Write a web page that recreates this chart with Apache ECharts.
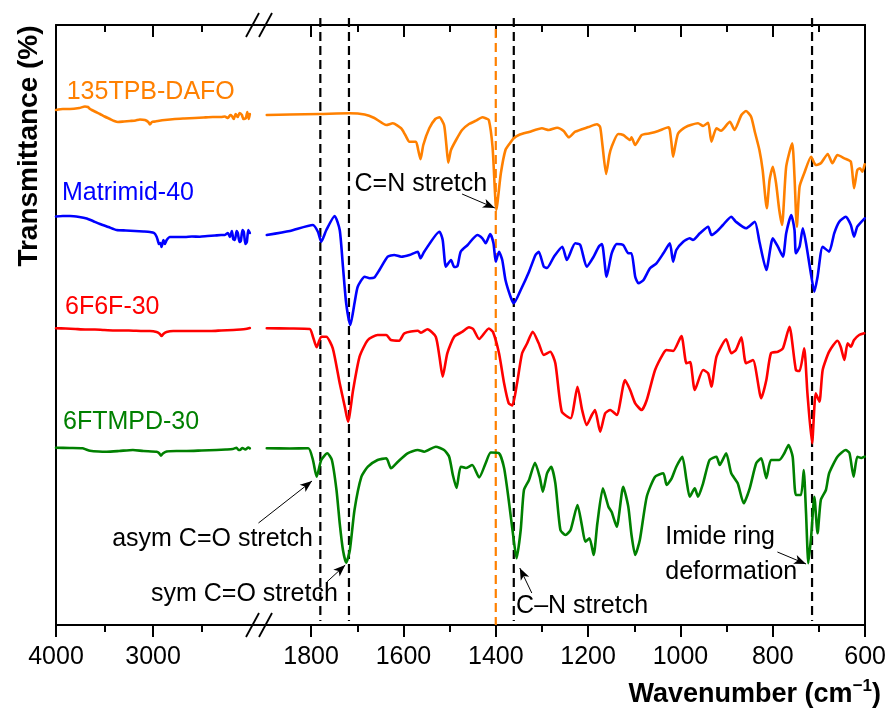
<!DOCTYPE html>
<html>
<head>
<meta charset="utf-8">
<title>FTIR spectra</title>
<script src="https://cdn.jsdelivr.net/npm/echarts@6/dist/echarts.min.js"></script>
<style>
  html, body { margin: 0; padding: 0; background: #ffffff; }
  #chart { width: 889px; height: 709px; }
</style>
</head>
<body>
<div id="chart"></div>
<script>
// ---------- axis windows and ticks (wavenumber, cm-1) ----------
const highRange = [1920, 4000];          // O-H / C-H stretching window
const lowRange = [600, 1915];            // fingerprint window
const highMajorTicks = [4000, 3000];
const highMinorTicks = [3500, 2500];
const lowMajorTicks = [1800, 1600, 1400, 1200, 1000, 800, 600];
const lowMinorTicks = [1700, 1500, 1300, 1100, 900, 700];
const transRange = [0, 600];             // offset transmittance (stacked, arb. units)

// ---------- sample names ----------
const sampleNames = ['135TPB-DAFO', 'Matrimid-40', '6F6F-30', '6FTMPD-30'];

// ---------- spectra: [wavenumber, offset transmittance] ----------
const tpbHigh = [[4000,515],[3930,516],[3856,516],[3760,517],[3702,518.5],[3671,518],[3650,516],[3630,515],[3590,513],[3547,511],[3500,508.5],[3444,506],[3400,504],[3362,503],[3300,503.5],[3239,504],[3180,504.5],[3136,505.5],[3084,505],[3050,503],[3033,500.5],[3012,503],[2980,503.5],[2951,504],[2880,505],[2776,506],[2680,506.5],[2570,507],[2480,507.5],[2385,508],[2300,508],[2261,508.5],[2230,507],[2205,510],[2189,509],[2170,506],[2150,511],[2128,508],[2110,512],[2086,510],[2070,506],[2045,507],[2030,513],[2015,506],[2004,511]];
const tpbLow = [[1896,510],[1846,510.5],[1781,511],[1717,511.7],[1684,510.5],[1663,507],[1637,500],[1623,501.7],[1605,496.7],[1596,490],[1587,483.3],[1573,483.3],[1568,475],[1563,465.7],[1557,480],[1544,496.7],[1531,506],[1522,507.7],[1512,500],[1507,480],[1503,462.3],[1497,475],[1486,485],[1473,495],[1458,501],[1443,504.3],[1429,507.7],[1422,506.7],[1415,505],[1407,478],[1402,435],[1399,415],[1389,451.7],[1379,475],[1369,482],[1361,486.7],[1350,490],[1328,493],[1300,496.7],[1285,495],[1267,497.3],[1253,494],[1242,487.7],[1228,493.3],[1199,498],[1181,500.7],[1174,498],[1169,480],[1161,451],[1154,470],[1149,478.3],[1135,491],[1124,490],[1109,485],[1106,487.7],[1098,480],[1084,490],[1066,491.7],[1048,494],[1026,497.7],[1023,495],[1019,480],[1016,468.3],[1011,480],[1005,491.7],[990,497.7],[962,501.7],[951,499],[940,502.3],[933,483.3],[922,496.7],[912,494.3],[893,503.3],[883,495],[868,510],[858,514],[847,508.3],[839,493.3],[829,475],[822,455],[813,416.7],[807,445],[800,458.3],[793,442],[786,415],[780,400],[771,458.3],[758,481.7],[753,448.3],[748,398.3],[742,438.3],[732,451.7],[717,468.3],[707,460],[696,461.7],[681,471],[671,461.7],[660,470],[645,466.7],[631,463.3],[624,436.7],[617,455],[611,456.7],[606,453.3],[601,460.7]];

const matHigh = [[4000,408.5],[3930,409],[3856,409],[3760,408],[3684,406.5],[3620,404],[3547,401],[3460,398],[3376,395],[3280,394.5],[3187,394],[3100,393.5],[3033,393],[2990,392],[2964,388.3],[2950,384],[2940,381],[2925,382],[2913,378],[2900,383],[2894,385],[2885,383],[2879,381],[2860,385],[2827,388],[2750,388],[2673,388],[2600,388.5],[2519,388.3],[2440,389],[2364,389.5],[2300,390],[2261,390],[2230,392],[2210,388],[2189,394],[2175,386],[2158,385],[2140,394],[2128,392],[2110,383],[2097,384],[2080,395],[2066,393],[2050,381],[2035,383],[2020,395],[2004,392]];
const matLow = [[1896,390],[1846,394],[1796,400],[1785,393],[1778,383.3],[1767,395],[1749,409],[1738,395],[1731,358.3],[1724,321.7],[1715,300],[1706,321.7],[1699,338.3],[1684,348.3],[1673,346.7],[1663,347.5],[1652,355],[1634,368.3],[1620,370],[1605,368.3],[1587,370],[1569,373.3],[1563,366.7],[1555,373.3],[1522,393.3],[1515,385],[1508,358.3],[1497,365],[1490,358],[1483,359],[1476,373.3],[1461,380],[1440,390],[1429,386.7],[1422,381.7],[1412,391],[1405,381.7],[1400,363.3],[1393,373.3],[1386,365],[1379,345],[1368,328.3],[1361,321.7],[1346,335],[1328,353.3],[1314,370],[1307,373.3],[1296,358.3],[1289,357],[1274,368.3],[1256,378.3],[1246,365],[1228,381.7],[1217,380],[1203,358.3],[1188,368.3],[1177,378.3],[1170,381],[1160,348.3],[1149,371.7],[1138,381],[1124,380],[1113,371.7],[1106,371.7],[1098,348.3],[1091,341.7],[1080,345],[1066,356.7],[1052,361.7],[1037,371.7],[1023,381.7],[1016,363.3],[1009,375],[994,383.3],[980,386.7],[973,385],[958,391.7],[940,398.3],[933,390],[922,393.3],[908,400],[890,408.3],[880,403.3],[858,396.7],[839,403.3],[829,383.3],[814,355],[800,386.7],[789,378.3],[778,368.3],[771,391.7],[760,410],[753,395],[750,371.7],[742,378.3],[735,396.7],[728,381.7],[717,350],[710,333.3],[703,348.3],[692,378.3],[678,373.3],[667,391.7],[656,403.3],[642,408.3],[631,400],[624,388.3],[617,398.3],[601,406.7]];

const f6High = [[4000,296.7],[3900,296.5],[3800,296],[3700,295.5],[3600,295.5],[3517,295],[3400,294.5],[3250,294.5],[3100,294],[3033,294],[2964,293],[2930,291],[2913,289],[2895,291],[2862,293],[2793,294],[2700,294],[2600,294],[2500,294],[2400,294],[2300,294.5],[2175,295],[2100,295.5],[2050,296],[2004,297]];
const f6Low = [[1896,296.7],[1846,296.5],[1803,296],[1796,288.3],[1788,277.7],[1778,288.3],[1767,288.3],[1753,276.7],[1738,241.7],[1727,218.3],[1720,203.3],[1709,235],[1695,268.3],[1677,285],[1656,290],[1637,290],[1627,285],[1609,284.3],[1598,291.7],[1569,294.3],[1562,292.3],[1548,295.7],[1530,288.3],[1522,268.3],[1515,248.3],[1505,271.7],[1490,288.3],[1472,293.3],[1458,297.7],[1449,296],[1436,286],[1415,296.5],[1406,293],[1393,271.7],[1382,241.7],[1372,221.7],[1364,219.5],[1354,241.7],[1343,271.7],[1332,281.7],[1320,293.3],[1307,281.7],[1296,270],[1282,273.3],[1271,261.7],[1257,213.3],[1238,206.7],[1223,238.3],[1213,215],[1203,200],[1192,210],[1185,215],[1174,193.3],[1163,211.7],[1152,215],[1138,210],[1120,245],[1109,235],[1098,221.7],[1084,215],[1073,225],[1055,255],[1037,271.7],[1030,275],[1016,274],[998,289],[987,261.7],[979,263],[969,235],[951,255],[940,251.7],[933,238.3],[922,268.3],[901,285.7],[890,271.7],[880,275],[868,287.7],[858,261.7],[843,265],[825,226.7],[814,245],[804,271.7],[789,273.3],[778,276.7],[764,298.3],[750,255],[742,254],[732,276.7],[725,231.7],[715,181.7],[707,231.7],[699,223.3],[692,255],[678,273.3],[660,284.3],[653,278.3],[645,265],[638,281.7],[631,278.3],[624,285],[613,290],[602,291.7]];

const tmpdHigh = [[4000,177.3],[3860,177],[3726,176.7],[3690,175.5],[3650,174.3],[3560,173.5],[3478,173.3],[3350,174],[3208,175],[3100,174],[2964,173.3],[2940,172],[2920,169.3],[2900,171.5],[2861,173.5],[2760,174],[2655,174],[2500,174.5],[2347,175],[2250,175.5],[2180,176],[2141,177.3],[2120,175],[2107,175],[2080,177],[2050,175.5],[2020,177.5],[2004,176.7]];
const tmpdLow = [[1896,176.7],[1846,176.5],[1806,176.7],[1796,165],[1788,148.3],[1778,165],[1765,171.7],[1755,165],[1745,135],[1738,101.7],[1731,75],[1724,62.3],[1716,75],[1706,115],[1691,148.3],[1677,158.3],[1656,165],[1637,166.7],[1627,156.7],[1612,163.3],[1591,171.7],[1569,175],[1555,173.3],[1530,178.3],[1512,175],[1501,168.3],[1493,150],[1485,137],[1476,158.3],[1465,157],[1451,160],[1436,147.5],[1422,161.7],[1411,172.5],[1393,171.7],[1382,157],[1372,125],[1362,88.3],[1355,66.7],[1346,95],[1339,135],[1328,145],[1315,162.3],[1305,148.3],[1298,133.3],[1289,151.7],[1280,158.3],[1271,141.7],[1260,95],[1249,90],[1238,95],[1223,120],[1213,98.3],[1206,83.3],[1197,86.7],[1188,70],[1180,101.7],[1168,136.7],[1156,118.3],[1149,113],[1138,98.3],[1124,138.3],[1113,118.3],[1106,90],[1098,70],[1088,85],[1073,128.3],[1055,148.3],[1037,151.7],[1030,140],[1019,146.7],[1009,158.3],[996,168.3],[987,145],[980,128.3],[969,136.7],[962,128.3],[951,141.7],[937,165],[922,168.3],[915,160],[901,171.7],[890,151.7],[876,141.7],[863,121.7],[850,136.7],[836,161.7],[825,166.7],[814,146.7],[804,165],[786,165],[775,171.7],[766,180],[757,168.3],[750,130],[739,130],[733,155],[728,111.7],[723,61.7],[717,88.3],[710,128.3],[703,91.7],[696,125],[685,135],[678,151.7],[660,168.3],[642,175],[634,172],[625,148.3],[617,168.3],[608,167],[601,168.3]];

// ---------- band assignments ----------
const imideBands = [1780, 1718, 1361, 715];   // black dashed guides
const iminBand = 1400;                         // C=N band of the DAFO unit

// ---------- styling ----------
const FONT = '"Liberation Sans", Arial, Helvetica, sans-serif';
const sampleColors = ['#ff8000', '#0000ff', '#ff0000', '#008000'];
const LINE_W = 2.6;
const AXIS_W = 2;

// label anchors (left edge, vertical centre) in the high-wavenumber window
const sampleLabelAnchors = [[3890, 533], [3938, 432], [3907, 318], [3928, 203]];

// annotation text anchors and arrows in the fingerprint window
const notes = [
  { text: 'C=N stretch', at: [1706, 441], align: 'left' },
  { text: 'asym C=O stretch', at: [1796, 86], align: 'right' },
  { text: 'sym C=O stretch', at: [1742, 31], align: 'right' },
  { text: 'C\u2013N stretch', at: [1356, 19], align: 'left' },
  { text: 'Imide ring\ndeformation', at: [1033, 70], align: 'left' }
];
const arrows = [
  [[1473, 431], [1402, 417]],
  [[1914, 102], [1798, 144]],
  [[1766, 43], [1726, 60]],
  [[1322, 32], [1348, 57]],
  [[790, 73], [728, 61]]
];

// ---------- build ----------
const chart = echarts.init(document.getElementById('chart'), null, { renderer: 'canvas' });

const GRID_TOP = 25, GRID_H = 600, LEFT = 56, BREAK_X = 258, RIGHT_X = 868;

function xAxesFor(gridIndex, range, major, minor) {
  const base = {
    type: 'value', gridIndex, min: range[0], max: range[1], inverse: true,
    splitLine: { show: false }, silent: true
  };
  const tickStyle = { color: '#000', width: AXIS_W };
  const lineOn = { show: true, onZero: false, lineStyle: { color: '#000', width: AXIS_W } };
  const lineOff = { show: false, onZero: false };
  return [
    Object.assign({}, base, {
      position: 'bottom', axisLine: lineOn,
      axisTick: { show: true, inside: false, length: 12, customValues: major, lineStyle: tickStyle },
      axisLabel: {
        show: true, customValues: major, margin: 20, fontSize: 25, color: '#000', fontFamily: FONT,
        formatter: v => String(v)
      }
    }),
    Object.assign({}, base, {
      position: 'bottom', axisLine: lineOff,
      axisTick: { show: true, inside: false, length: 7, customValues: minor, lineStyle: tickStyle },
      axisLabel: { show: false }
    }),
    Object.assign({}, base, {
      position: 'top', axisLine: lineOn,
      axisTick: { show: true, inside: true, length: 12, customValues: major, lineStyle: tickStyle },
      axisLabel: { show: false }
    }),
    Object.assign({}, base, {
      position: 'top', axisLine: lineOff,
      axisTick: { show: true, inside: true, length: 7, customValues: minor, lineStyle: tickStyle },
      axisLabel: { show: false }
    })
  ];
}

function yAxisFor(gridIndex, position) {
  return {
    type: 'value', gridIndex, position, min: transRange[0], max: transRange[1],
    axisLine: { show: true, onZero: false, lineStyle: { color: '#000', width: AXIS_W } },
    axisTick: { show: false }, axisLabel: { show: false }, splitLine: { show: false }, silent: true
  };
}

function spectrum(name, color, gridIndex, data, extra) {
  return Object.assign({
    type: 'line', name, data,
    xAxisIndex: gridIndex * 4, yAxisIndex: gridIndex,
    showSymbol: false, symbol: 'none', smooth: 0.2,
    lineStyle: { color, width: LINE_W, join: 'round', cap: 'round' },
    itemStyle: { color }, silent: true, clip: false, z: 3
  }, extra || {});
}

const series = [
  spectrum(sampleNames[0], sampleColors[0], 0, tpbHigh),
  spectrum(sampleNames[0], sampleColors[0], 1, tpbLow),
  spectrum(sampleNames[1], sampleColors[1], 0, matHigh),
  spectrum(sampleNames[1], sampleColors[1], 1, matLow),
  spectrum(sampleNames[2], sampleColors[2], 0, f6High),
  spectrum(sampleNames[2], sampleColors[2], 1, f6Low),
  spectrum(sampleNames[3], sampleColors[3], 0, tmpdHigh),
  spectrum(sampleNames[3], sampleColors[3], 1, tmpdLow, {
    markLine: {
      silent: true, animation: false, symbol: ['none', 'arrow'], symbolSize: [7, 12],
      label: { show: false },
      lineStyle: { color: '#000', width: 1, type: 'solid' },
      data: arrows.map(a => [{ coord: a[0] }, { coord: a[1] }])
    }
  })
];

chart.setOption({
  animation: false,
  backgroundColor: '#ffffff',
  grid: [
    { left: LEFT, top: GRID_TOP, width: BREAK_X - LEFT, height: GRID_H, containLabel: false },
    { left: BREAK_X, top: GRID_TOP, width: RIGHT_X - BREAK_X, height: GRID_H, containLabel: false }
  ],
  xAxis: xAxesFor(0, highRange, highMajorTicks, highMinorTicks)
    .concat(xAxesFor(1, lowRange, lowMajorTicks, lowMinorTicks)),
  yAxis: [yAxisFor(0, 'left'), yAxisFor(1, 'right')],
  series
});

// ---------- guides, text, titles, axis-break marks ----------
const toPx = (g, pt) => chart.convertToPixel({ xAxisIndex: g * 4, yAxisIndex: g }, pt);

const graphics = [];

// dashed band guides, positioned from the band wavenumbers
imideBands.forEach(w => {
  const x = toPx(1, [w, 0])[0];
  graphics.push({
    type: 'line', silent: true, z: 1,
    shape: { x1: x, y1: GRID_TOP - 7, x2: x, y2: GRID_TOP + GRID_H - 4 },
    style: { stroke: '#000', lineWidth: 2.2, lineDash: [9, 5] }
  });
});
{
  const x = toPx(1, [iminBand, 0])[0];
  graphics.push({
    type: 'line', silent: true, z: 1,
    shape: { x1: x, y1: GRID_TOP + 4, x2: x, y2: GRID_TOP + GRID_H },
    style: { stroke: sampleColors[0], lineWidth: 2.2, lineDash: [9, 5] }
  });
}

sampleNames.forEach((name, i) => {
  const p = toPx(0, sampleLabelAnchors[i]);
  graphics.push({
    type: 'text', x: p[0], y: p[1], silent: true, z: 10,
    style: { text: name, fill: sampleColors[i], fontSize: 25, fontFamily: FONT, align: 'left', verticalAlign: 'middle' }
  });
});

notes.forEach(n => {
  const p = toPx(1, n.at);
  graphics.push({
    type: 'text', x: p[0], y: p[1], silent: true, z: 10,
    style: { text: n.text, fill: '#000', fontSize: 25, lineHeight: 35, fontFamily: FONT, align: n.align, verticalAlign: 'middle' }
  });
});

// y-axis title
graphics.push({
  type: 'text', x: 29, y: 146, rotation: Math.PI / 2, silent: true,
  style: { text: 'Transmittance (%)', fill: '#000', fontSize: 28, fontWeight: 'bold', fontFamily: FONT, align: 'center', verticalAlign: 'middle' }
});

// x-axis title with superscript
graphics.push({
  type: 'text', x: 881, y: 695, silent: true,
  style: {
    text: '{m|Wavenumber (cm}{s|\u22121}{m|)}',
    align: 'right', verticalAlign: 'middle',
    rich: {
      m: { fontSize: 27, fontWeight: 'bold', fontFamily: FONT, fill: '#000', lineHeight: 34 },
      s: { fontSize: 17, fontWeight: 'bold', fontFamily: FONT, fill: '#000', verticalAlign: 'top', lineHeight: 17 }
    }
  }
});

// double-slash break marks on the top and bottom axis lines
[GRID_TOP, GRID_TOP + GRID_H].forEach(yAxisLine => {
  [-12, 1].forEach(dx => {
    graphics.push({
      type: 'line', silent: true, z: 12,
      shape: { x1: BREAK_X + dx, y1: yAxisLine + 12, x2: BREAK_X + dx + 13, y2: yAxisLine - 12 },
      style: { stroke: '#000', lineWidth: 1.8 }
    });
  });
});

chart.setOption({ graphic: graphics });
</script>
</body>
</html>
